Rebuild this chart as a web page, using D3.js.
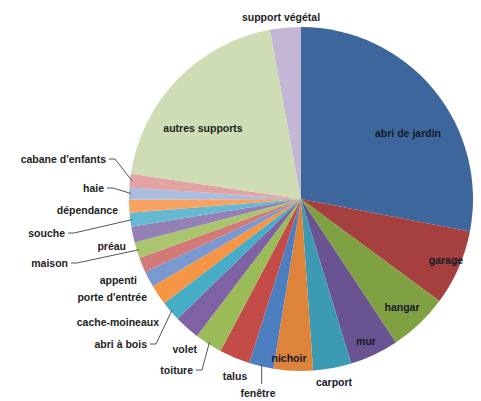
<!DOCTYPE html>
<html>
<head>
<meta charset="utf-8">
<script src="https://cdn.jsdelivr.net/npm/d3@7"></script>
<style>
  body { margin: 0; background: #fff; }
  text { font-family: "Liberation Sans", Arial, sans-serif; font-weight: bold; font-size: 10.5px; fill: #1e1e1e; }
</style>
</head>
<body>
<svg id="chart" width="481" height="401"></svg>
<script>
// categories (clockwise from 12 o'clock)
var categories = ["abri de jardin", "garage", "hangar", "mur", "carport", "nichoir", "fenêtre",
  "talus", "toiture", "volet", "abri à bois", "cache-moineaux", "porte d'entrée", "appenti",
  "maison", "préau", "souche", "dépendance", "haie", "cabane d'enfants", "autres supports", "support végétal"];
// share of each support, in %
var values = [28.1, 7.1, 5.6, 4.6, 3.6, 3.7, 2.3,
  2.9, 2.6, 2.4, 1.9, 1.9, 1.5, 1.4,
  1.5, 1.5, 1.3, 1.25, 1.1, 1.3, 19.8, 2.9];
var colors = ["#3d679c", "#a5403e", "#80a142", "#6a5391", "#3c9ab2", "#de843a", "#4d7ec0",
  "#c44c48", "#9bbb59", "#7f62a3", "#47acc5", "#f59647", "#7a99d0", "#d27a78",
  "#a9c56e", "#9580b6", "#66b9d1", "#f7a363", "#a8bde0", "#e2a3a2", "#cfddb4", "#c4b7d6"];

const cx = 301, cy = 199, r = 172;
const svg = d3.select("#chart");
const g = svg.append("g").attr("transform", "translate(" + cx + "," + cy + ")");

const data = categories.map((c, i) => ({name: c, value: values[i], color: colors[i]}));
const pie = d3.pie().sort(null).value(d => d.value);
const arcs = pie(data);
const arc = d3.arc().innerRadius(0).outerRadius(r);
const edge = d3.arc().innerRadius(r - 2).outerRadius(r - 2);

g.selectAll("path.slice")
  .data(arcs)
  .enter().append("path")
  .attr("class", "slice")
  .attr("d", arc)
  .attr("fill", d => d.data.color);

// label layout: [dx, dy] from centre, anchor, leader line yes/no
var labelLayout = {
  "abri de jardin": [107, -66, "middle", false],
  "garage": [145, 61, "middle", false],
  "hangar": [101, 108, "middle", false],
  "mur": [65, 142, "middle", false],
  "carport": [33, 183, "middle", false],
  "nichoir": [-12, 159, "middle", false],
  "fenêtre": [-43, 194, "middle", true],
  "talus": [-66, 177, "middle", false],
  "toiture": [-108, 171, "end", true],
  "volet": [-104, 150, "end", false],
  "abri à bois": [-154, 145, "end", true],
  "cache-moineaux": [-142, 123, "end", false],
  "porte d'entrée": [-154, 98, "end", false],
  "appenti": [-164, 81, "end", false],
  "maison": [-233, 64, "end", true],
  "préau": [-175, 47, "end", false],
  "souche": [-236, 34, "end", true],
  "dépendance": [-183, 11, "end", false],
  "haie": [-197, -11, "end", true],
  "cabane d'enfants": [-195, -40, "end", true],
  "autres supports": [-98, -71, "middle", false],
  "support végétal": [-20, -182, "middle", false]
};

const labels = g.selectAll("g.lab")
  .data(arcs)
  .enter().append("g")
  .attr("class", "lab");

labels.append("text")
  .attr("x", d => labelLayout[d.data.name][0])
  .attr("y", d => labelLayout[d.data.name][1])
  .attr("dy", "0.35em")
  .attr("text-anchor", d => labelLayout[d.data.name][2])
  .style("fill", d => (d.index < 6 ? "#141a2a" : "#1e1e1e"))
  .text(d => d.data.name);

// leader lines from label to slice edge
labels.filter(d => labelLayout[d.data.name][3])
  .append("polyline")
  .attr("fill", "none")
  .attr("stroke", "#555")
  .attr("stroke-width", 1)
  .attr("points", d => {
    const L = labelLayout[d.data.name];
    const e = edge.centroid(d);
    if (d.data.name === "fenêtre") {
      return [[e[0], L[1] - 9], e].map(p => p.join(",")).join(" ");
    }
    const x0 = L[0] + 3, y0 = L[1];
    return [[x0, y0], [x0 + 6, y0], e].map(p => p.join(",")).join(" ");
  });
</script>
</body>
</html>
